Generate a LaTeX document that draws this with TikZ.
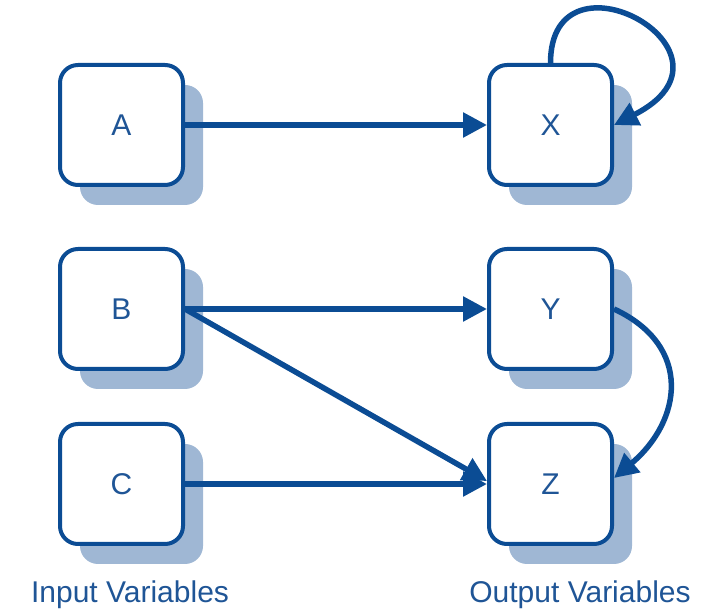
\documentclass[tikz,border=0pt]{standalone}
\usepackage{fontspec}
\setmainfont{Liberation Sans}
\usetikzlibrary{arrows.meta,shadows}

\definecolor{edgeblue}{HTML}{0B4C94}
\definecolor{textblue}{HTML}{1F5596}
\definecolor{shadeblue}{HTML}{9FB7D4}

\tikzset{
  varbox/.style={
    draw=edgeblue, line width=4pt, fill=white,
    rounded corners=18pt,
    minimum width=123pt, minimum height=120pt,
    text=textblue, font=\fontsize{30}{30}\selectfont,
    drop shadow={shadow xshift=20pt, shadow yshift=-20pt,
                 fill=shadeblue, opacity=1}
  },
  link/.style={
    draw=edgeblue, line width=5.5pt,
    -{Triangle[length=24pt,width=24pt]}
  },
  caption/.style={
    text=textblue, font=\fontsize{30}{30}\selectfont,
    anchor=base, inner sep=0pt
  }
}

\begin{document}
\begin{tikzpicture}[x=1pt,y=1pt]
  \useasboundingbox (0,0) rectangle (717,610);

  % input variables
  \node[varbox] (A) at (121.5,485) {A};
  \node[varbox] (B) at (121.5,301) {B};
  \node[varbox] (C) at (121.5,126) {C};

  % output variables
  \node[varbox] (X) at (550.5,485) {X};
  \node[varbox] (Y) at (550.5,301) {Y};
  \node[varbox] (Z) at (550.5,126) {Z};

  % dependencies
  \draw[link] (A.east) -- (X.west);
  \draw[link] (B.east) -- (Y.west);
  \draw[link] (B.east) -- ([yshift=3pt]Z.west);
  \draw[link] (C.east) -- (Z.west);

  % feedback loops
  \draw[link] (X.north) to[out=90, in=27, out distance=123pt, in distance=160pt] (X.east);
  \draw[link] (Y.east) to[out=-25, in=40, out distance=88pt, in distance=88pt] ([yshift=6pt]Z.east);

  % column captions
  \node[caption] (inlab) at (130,7) {Input Variables};
  \node[caption] (outlab) at (580,7) {Output Variables};
\end{tikzpicture}
\end{document}
